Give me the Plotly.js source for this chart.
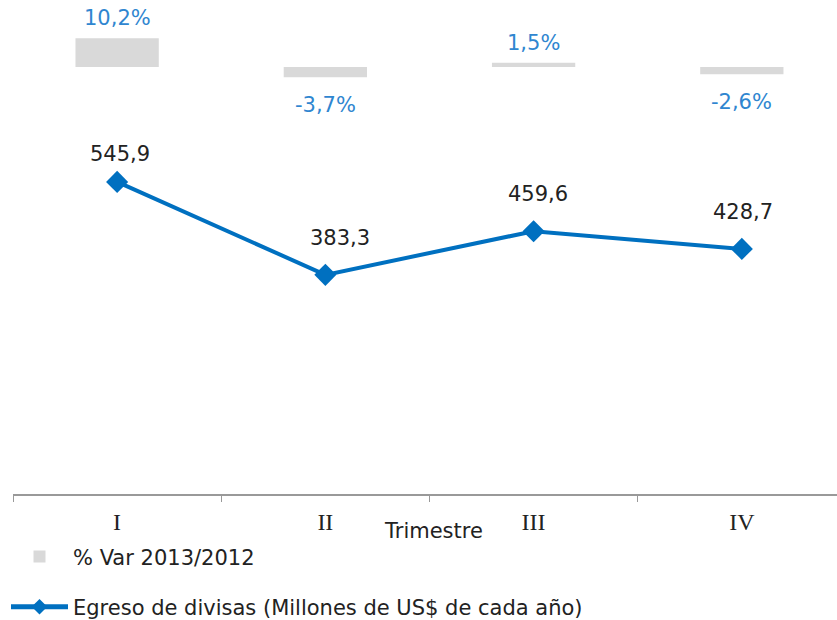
<!DOCTYPE html>
<html>
<head>
<meta charset="utf-8">
<script src="https://cdn.plot.ly/plotly-3.0.1.min.js"></script>
<style>
html, body { margin: 0; padding: 0; background: #fff; overflow: hidden; }
#chart { width: 837px; height: 620px; }
</style>
</head>
<body>
<div id="chart"></div>
<script>
// ---- data ----
const quarters = ['I', 'II', 'III', 'IV'];
const egresoValues = [545.9, 383.3, 459.6, 428.7];
const varPctValues = [10.2, -3.7, 1.5, -2.6];
const barSeriesName = '% Var 2013/2012';
const lineSeriesName = 'Egreso de divisas (Millones de US$ de cada año)';
const xAxisTitle = 'Trimestre';

function fmt(v) { return v.toFixed(1).replace('.', ','); }

const blue = '#0070C0';
const pctBlue = '#2F86D0';
const labelFont = 'DejaVu Sans, Verdana, sans-serif';

const barTrace = {
  type: 'bar',
  name: barSeriesName,
  x: quarters,
  y: varPctValues,
  yaxis: 'y2',
  width: 0.4,
  marker: { color: '#D9D9D9' },
  hoverinfo: 'skip',
  legendgroup: 'a'
};

const lineTrace = {
  type: 'scatter',
  mode: 'lines+markers',
  name: lineSeriesName,
  x: quarters,
  y: egresoValues,
  line: { color: blue, width: 4 },
  marker: { symbol: 'diamond', size: 17, color: blue },
  hoverinfo: 'skip',
  legendgroup: 'b'
};

const lineLabelShiftY = [28, 37, 37, 37];
const lineLabelShiftX = [3, 15, 4, 1];

const annotations = [];
quarters.forEach((q, i) => {
  annotations.push({
    x: q, y: egresoValues[i], xref: 'x', yref: 'y',
    text: fmt(egresoValues[i]), showarrow: false,
    yshift: lineLabelShiftY[i], xshift: lineLabelShiftX[i],
    font: { family: labelFont, size: 21, color: '#222222' }
  });
  const v = varPctValues[i];
  annotations.push({
    x: q, y: v, xref: 'x', yref: 'y2',
    text: fmt(v) + '%', showarrow: false,
    yshift: v >= 0 ? 20 : -28,
    font: { family: labelFont, size: 21, color: pctBlue }
  });
});
annotations.push({
  x: 0.51, y: -37 / 494, xref: 'paper', yref: 'paper', yanchor: 'middle',
  text: xAxisTitle, showarrow: false,
  font: { family: labelFont, size: 21, color: '#222222' }
});

const layout = {
  width: 837,
  height: 620,
  margin: { l: 13, r: 0, t: 0, b: 126, autoexpand: false },
  paper_bgcolor: '#ffffff',
  plot_bgcolor: '#ffffff',
  separators: ',.',
  showlegend: true,
  xaxis: {
    type: 'category',
    categoryorder: 'array',
    categoryarray: quarters,
    range: [-0.5, 3.457],
    tickson: 'boundaries',
    ticks: 'outside',
    ticklen: 6,
    tickcolor: '#999999',
    showline: true,
    linecolor: '#999999',
    linewidth: 1.5,
    showgrid: false,
    zeroline: false,
    ticklabelstandoff: 6,
    automargin: false,
    tickfont: { family: 'Liberation Serif, Times New Roman, serif', size: 24, color: '#222222' },
    fixedrange: true
  },
  yaxis: {
    range: [0, 864],
    visible: false,
    showgrid: false,
    zeroline: false,
    fixedrange: true
  },
  yaxis2: {
    overlaying: 'y',
    range: [-152.5, 23.9],
    visible: false,
    showgrid: false,
    zeroline: false,
    fixedrange: true
  },
  legend: {
    orientation: 'v',
    xref: 'container', yref: 'container',
    x: 6 / 837, y: 0.135,
    xanchor: 'left', yanchor: 'top',
    bgcolor: 'rgba(0,0,0,0)',
    font: { family: labelFont, size: 21, color: '#222222' },
    traceorder: 'grouped',
    tracegroupgap: 20,
    itemwidth: 57,
    itemsizing: 'constant'
  },
  annotations: annotations
};

Plotly.newPlot('chart', [barTrace, lineTrace], layout, { displayModeBar: false, staticPlot: true });
</script>
</body>
</html>
